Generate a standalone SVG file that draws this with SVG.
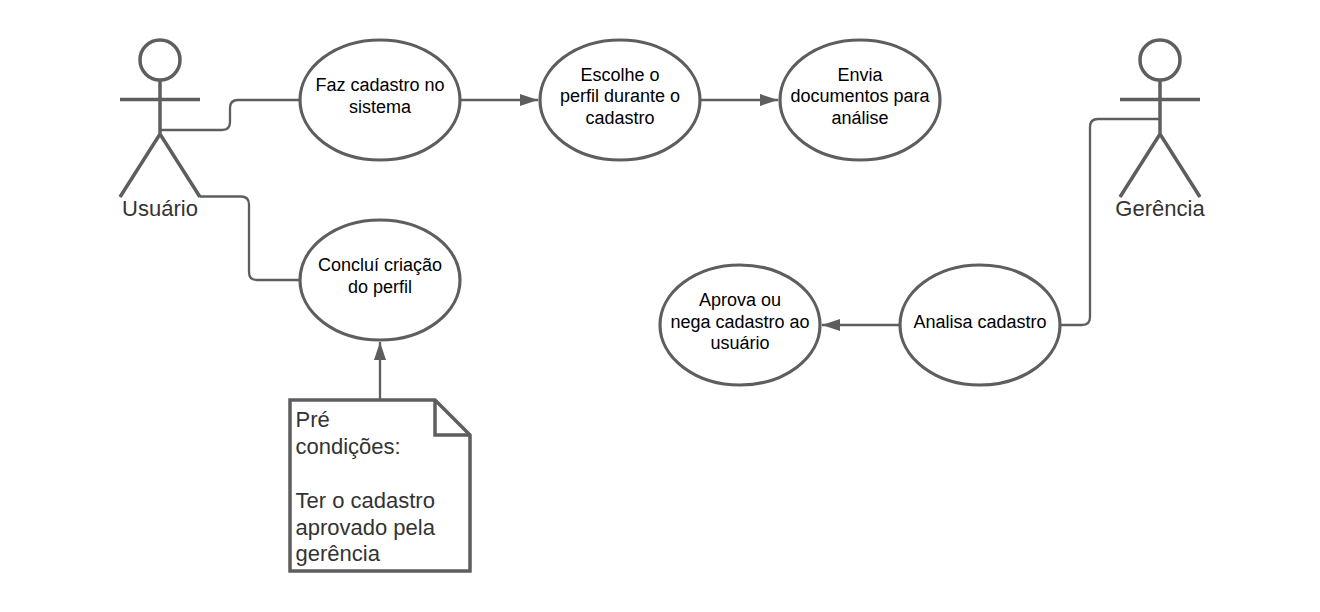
<svg xmlns="http://www.w3.org/2000/svg" width="1320" height="612" viewBox="0 0 1320 612">
<style>
.s{fill:none;stroke:#5e5e5e;stroke-width:3.500}
.e{fill:#fff;stroke:#5e5e5e;stroke-width:3.200}
.c{fill:none;stroke:#5e5e5e;stroke-width:2.300}
.t{font-family:"Liberation Sans",Arial,sans-serif;font-size:18px;fill:#000;text-anchor:middle}
.a{font-family:"Liberation Sans",Arial,sans-serif;font-size:22px;fill:#333;text-anchor:middle}
.n{font-family:"Liberation Sans",Arial,sans-serif;font-size:22px;fill:#333}
</style>
<defs>
<marker id="arr" markerUnits="userSpaceOnUse" markerWidth="20" markerHeight="14" refX="18" refY="6" orient="auto"><path d="M0 0L18 6L0 12Z" fill="#5e5e5e"/></marker>
</defs>
<g id="connectors">
<path class="c" d="M160 130H222Q230 130 230 122V108Q230 100 238 100H300"/>
<path class="c" d="M200 196.500H241Q249 196.500 249 204.500V272Q249 280 257 280H300"/>
<path class="c" d="M460 100H538" marker-end="url(#arr)"/>
<path class="c" d="M701 100H778" marker-end="url(#arr)"/>
<path class="c" d="M380 400V342" marker-end="url(#arr)"/>
<path class="c" d="M900 325H822" marker-end="url(#arr)"/>
<path class="c" d="M1060 325H1082Q1090 325 1090 317V127Q1090 119 1098 119H1160"/>
</g>
<g id="actor-usuario"><circle class="s" cx="160" cy="60" r="20"/><path class="s" d="M160 80V134M120 99.500H200M120 197L160 134L200 197"/><text class="a" x="160" y="215.500">Usuário</text></g>
<g id="actor-gerencia"><circle class="s" cx="1160" cy="60" r="20"/><path class="s" d="M1160 80V134M1120 99.500H1200M1120 197L1160 134L1200 197"/><text class="a" x="1160" y="215.500">Gerência</text></g>
<g id="uc1"><ellipse class="e" cx="380" cy="100" rx="80" ry="60"/><text class="t" x="380" y="91">Faz cadastro no</text><text class="t" x="380" y="113">sistema</text></g>
<g id="uc2"><ellipse class="e" cx="620" cy="100" rx="80" ry="60"/><text class="t" x="620" y="81">Escolhe o</text><text class="t" x="620" y="102">perfil durante o</text><text class="t" x="620" y="123.500">cadastro</text></g>
<g id="uc3"><ellipse class="e" cx="860" cy="100" rx="80" ry="60"/><text class="t" x="860" y="81">Envia</text><text class="t" x="860" y="102">documentos para</text><text class="t" x="860" y="123.500">análise</text></g>
<g id="uc4"><ellipse class="e" cx="380" cy="280" rx="80" ry="60"/><text class="t" x="380" y="271">Concluí criação</text><text class="t" x="380" y="293">do perfil</text></g>
<g id="uc5"><ellipse class="e" cx="740" cy="325" rx="80" ry="60"/><text class="t" x="740" y="306">Aprova ou</text><text class="t" x="740" y="328">nega cadastro ao</text><text class="t" x="740" y="348.500">usuário</text></g>
<g id="uc6"><ellipse class="e" cx="980" cy="325" rx="80" ry="60"/><text class="t" x="980" y="328">Analisa cadastro</text></g>
<g id="note"><path class="e" d="M290 400H435L470 435V571H290Z" style="stroke-width:3.500"/><path class="s" d="M435 400V435H470"/>
<text class="n" x="295.500" y="427">Pré</text><text class="n" x="295.500" y="454">condições:</text><text class="n" x="295.500" y="508">Ter o cadastro</text><text class="n" x="295.500" y="535">aprovado pela</text><text class="n" x="295.500" y="561">gerência</text></g>
</svg>
